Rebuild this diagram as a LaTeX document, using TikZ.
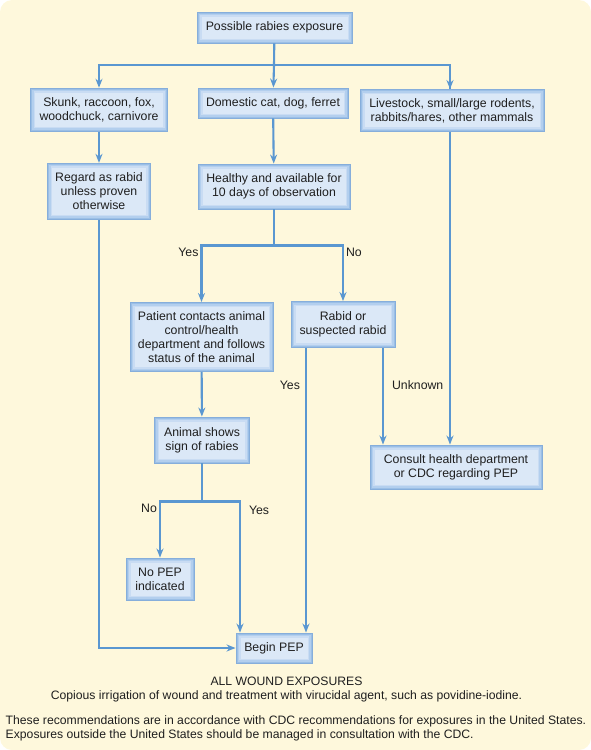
\documentclass[tikz,border=0pt]{standalone}
\usepackage{fontspec}
\setmainfont{Liberation Sans}
\usepackage{xcolor}
\usetikzlibrary{arrows.meta, positioning}

\definecolor{paper}{HTML}{FEF8DC}
\definecolor{boxedge}{HTML}{9BBFE6}
\definecolor{boxmid}{HTML}{B3CFEE}
\definecolor{boxsoft}{HTML}{C9DCF3}
\definecolor{boxcore}{HTML}{DBE8F7}
\definecolor{boxline}{HTML}{86AEDB}
\definecolor{flowblue}{HTML}{5A97D1}

\begin{document}
\begin{tikzpicture}[
        x=1pt, y=1pt,
        box/.style={rectangle, draw=boxline, line width=0.9pt, fill=boxedge, align=center, inner sep=2pt,
            text=black!88, font=\fontsize{12.3}{13.8}\selectfont,
            path picture={
                \fill[boxmid] ([shift={(1.5pt,1.5pt)}]path picture bounding box.south west) rectangle ([shift={(-1.5pt,-1.5pt)}]path picture bounding box.north east);
                \fill[boxsoft] ([shift={(3pt,3pt)}]path picture bounding box.south west) rectangle ([shift={(-3pt,-3pt)}]path picture bounding box.north east);
                \fill[boxcore] ([shift={(4.5pt,4.5pt)}]path picture bounding box.south west) rectangle ([shift={(-4.5pt,-4.5pt)}]path picture bounding box.north east);
            }},
        flow/.style={-{Stealth[length=9pt, width=7pt]}, draw=flowblue, line width=2.1pt},
        link/.style={draw=flowblue, line width=2.1pt},
        answer/.style={font=\fontsize{12.3}{14}\selectfont, text=black!88, inner sep=2pt},
        note/.style={font=\fontsize{12.2}{14}\selectfont, text=black!88, inner sep=0pt}
        ]
        % Background
        \fill[paper, rounded corners=12pt] (0,0) rectangle (591,-750);
        \useasboundingbox (0,0) rectangle (591,-750);

        % Boxes
        \node[box, minimum width=155pt, minimum height=31pt] (start) at (274.5,-27.5) {Possible rabies exposure};

        \node[box, minimum width=137pt, minimum height=43pt] (skunk) at (99,-109.7) {Skunk, raccoon, fox,\\woodchuck, carnivore};
        \node[box, minimum width=150pt, minimum height=30pt] (domestic) at (273,-103) {Domestic cat, dog, ferret};
        \node[box, minimum width=184pt, minimum height=42pt] (livestock) at (452,-110.5) {Livestock, small/large rodents,\\rabbits/hares, other mammals};

        \node[box, minimum width=103pt, minimum height=56pt] (regard) at (99,-191.3) {Regard as rabid\\unless proven\\otherwise};
        \node[box, minimum width=152pt, minimum height=45pt] (healthy) at (274,-186.5) {Healthy and available for\\10 days of observation};

        \node[box, minimum width=143pt, minimum height=69pt] (patient) at (201.5,-337) {Patient contacts animal\\control/health\\department and follows\\status of the animal};
        \node[box, minimum width=104pt, minimum height=46pt] (rabid) at (343,-324.5) {Rabid or\\suspected rabid};

        \node[box, minimum width=95pt, minimum height=46pt] (animal) at (202,-440) {Animal shows\\sign of rabies};
        \node[box, minimum width=172pt, minimum height=44pt] (consult) at (456,-467) {Consult health department\\or CDC regarding PEP};

        \node[box, minimum width=68pt, minimum height=42pt] (nopep) at (160,-579) {No PEP\\indicated};
        \node[box, minimum width=76pt, minimum height=30pt] (begin) at (274,-648) {Begin PEP};

        % Notes
        \node[note] (wound) at (286.5,-681.5) {ALL WOUND EXPOSURES};
        \node[note, below=4pt of wound] (irrigation) {Copious irrigation of wound and treatment with virucidal agent, such as povidine-iodine.};
        \node[note, anchor=west, align=left] (cdc) at (5.5,-728) {These recommendations are in accordance with CDC recommendations for exposures in the United States.\\Exposures outside the United States should be managed in consultation with the CDC.};

        % Connections
        \coordinate (bus) at (274,-65);
        \draw[link] (start) -- (bus);
        \draw[link] (bus) -| ([xshift=-2pt]livestock.north);
        \draw[flow] (bus) -| (skunk);
        \draw[flow] (bus) -- (domestic);
        \draw[flow] ([xshift=-2pt]livestock.north |- bus) -- ([xshift=-2pt]livestock.north);
        \draw[flow] (skunk) -- (regard);
        \draw[flow] (domestic) -- (healthy);

        \coordinate (fork) at ([yshift=-36pt]healthy.south);
        \draw[link] (healthy) -- (fork);
        \draw[flow] (fork) -| node[pos=0.5, answer, below left] {Yes} (patient);
        \draw[flow] (fork) -| node[pos=0.5, answer, below right] {No} (rabid);

        \draw[flow] ([xshift=-37pt]rabid.south) -- node[pos=0.13, answer, left=3pt] {Yes} ([xshift=-37pt]rabid.south |- begin.north);
        \draw[flow] ([xshift=40pt]rabid.south) -- node[pos=0.38, answer, right=6pt] {Unknown} ([xshift=40pt]rabid.south |- consult.north);
        \draw[flow] ([xshift=-2pt]livestock.south) -- ([xshift=-2pt]livestock.south |- consult.north);

        \draw[flow] (patient) -- (animal);
        \coordinate (fork2) at ([yshift=-38pt]animal.south);
        \draw[link] (animal) -- (fork2);
        \draw[flow] (fork2) -| node[pos=0.5, answer, below left] {No} (nopep);
        \draw[flow] (fork2) -| node[pos=0.5, answer, below right=2pt and 6pt] {Yes} ([xshift=-34pt]begin.north);

        \draw[flow] (regard) |- (begin);
\end{tikzpicture}
\end{document}
